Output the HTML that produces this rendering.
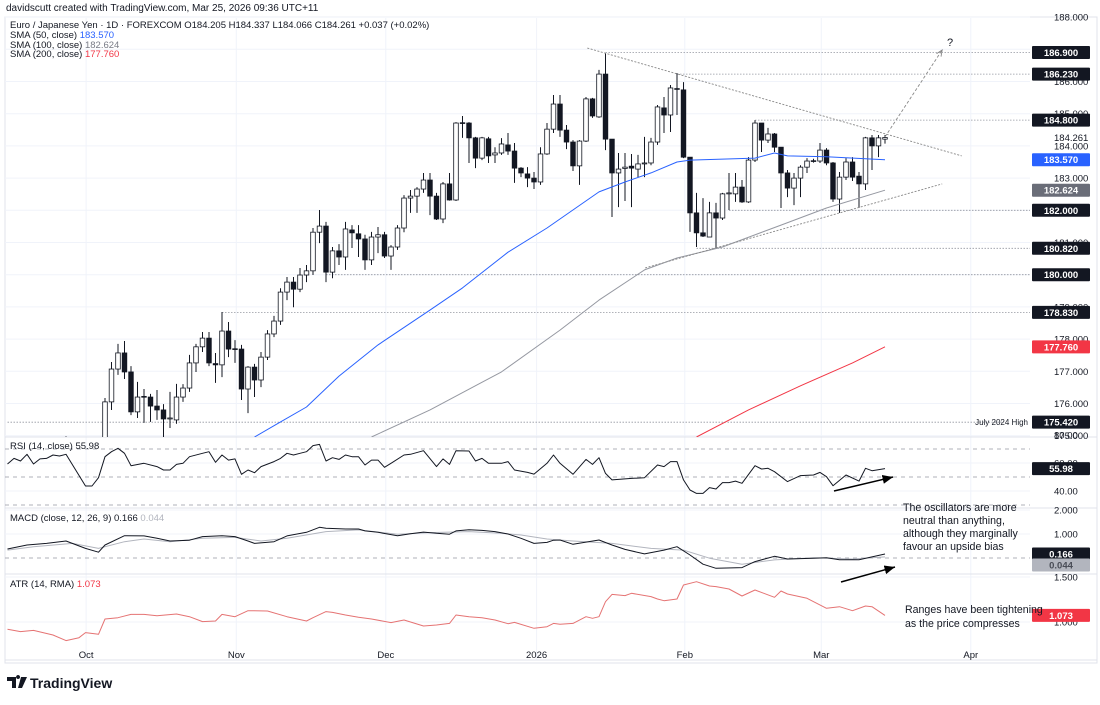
<!DOCTYPE html>
<html><head><meta charset="utf-8">
<style>
html,body{margin:0;padding:0;background:#fff;}
body{width:1100px;height:700px;overflow:hidden;font-family:"Liberation Sans",sans-serif;}
svg text{font-family:"Liberation Sans",sans-serif;}
</style></head>
<body>
<svg id="chart" width="1100" height="700" viewBox="0 0 1100 700" xmlns="http://www.w3.org/2000/svg">
<defs>
<clipPath id="cMain"><rect x="5" y="18" width="1025" height="419"/></clipPath>
<clipPath id="cRsi"><rect x="5" y="438" width="1025" height="69"/></clipPath>
<clipPath id="cMacd"><rect x="5" y="509" width="1025" height="65"/></clipPath>
<clipPath id="cAtr"><rect x="5" y="575" width="1025" height="85"/></clipPath>
<marker id="ah" markerWidth="8" markerHeight="8" refX="7" refY="4" orient="auto"><path d="M0,1 L7,4 L0,7" fill="#000"/></marker>
<marker id="ahg" markerWidth="8" markerHeight="8" refX="7" refY="4" orient="auto"><path d="M0,1 L7,4 L0,7" fill="none" stroke="#888"/></marker>
</defs>
<text x="6" y="11" font-size="10" fill="#131722">davidscutt created with TradingView.com, Mar 25, 2026 09:36 UTC+11</text>
<rect x="5" y="17" width="1092" height="646" fill="none" stroke="#e0e3eb"/>
<g id="grid"></g>
<g id="levels" clip-path="url(#cMain)"></g>
<g id="candles" clip-path="url(#cMain)"></g>
<g id="smas" clip-path="url(#cMain)"></g>
<g id="draw" clip-path="url(#cMain)"></g>
<g id="osc"></g>
<g id="axis"></g>
<text x="10" y="28" font-size="9.5" fill="#131722">Euro / Japanese Yen · 1D · FOREXCOM  O184.205  H184.337  L184.066  C184.261  +0.037 (+0.02%)</text>
<text x="10" y="38" font-size="9.5" fill="#131722">SMA (50, close) <tspan fill="#2962ff">183.570</tspan></text>
<text x="10" y="48" font-size="9.5" fill="#131722">SMA (100, close) <tspan fill="#787b86">182.624</tspan></text>
<text x="10" y="57" font-size="9.5" fill="#131722">SMA (200, close) <tspan fill="#f23645">177.760</tspan></text>
<text x="10" y="449" font-size="9.5" fill="#131722">RSI (14, close)  55.98</text>
<text x="10" y="521" font-size="9.5" fill="#131722">MACD (close, 12, 26, 9)  0.166  <tspan fill="#b2b5be">0.044</tspan></text>
<text x="10" y="587" font-size="9.5" fill="#131722">ATR (14, RMA)  <tspan fill="#f23645">1.073</tspan></text>
<text x="947" y="46" font-size="11" fill="#131722">?</text>
<g font-size="10.6" fill="#131722">
<text x="903" y="511">The oscillators are more</text>
<text x="903" y="524">neutral than anything,</text>
<text x="903" y="537">although they marginally</text>
<text x="903" y="550">favour an upside bias</text>
</g>
<g font-size="10.6" fill="#131722">
<text x="905" y="613">Ranges have been tightening</text>
<text x="905" y="627">as the price compresses</text>
</g>
<line x1="834" y1="491" x2="893" y2="477" stroke="#000" stroke-width="1.5" marker-end="url(#ah)"/>
<line x1="841" y1="582" x2="895" y2="567" stroke="#000" stroke-width="1.5" marker-end="url(#ah)"/>
<g>
<path d="M7,677 h9 v11 h-4 v-7 h-5z M18,679 a2,2 0 1,1 0.1,0z M21,677 h6 l-5,11 h-4z" fill="#131722"/>
<text x="30" y="688" font-size="14" font-weight="bold" fill="#131722">TradingView</text>
</g>
</svg>
<script>
// ---- data ----
const candleOpen=[174.2,174.3,174.1,174.4,174.3,174.5,174.2,174.4,174.6,174.7,174.5,174.3,174.1,174.0,174.3,174.7,176.05,177.07,177.57,176.98,175.74,176.20,176.20,175.92,175.80,175.52,175.49,176.20,176.48,177.26,177.76,178.03,177.24,177.20,178.25,177.69,177.69,176.45,177.13,176.73,177.44,178.16,178.56,179.46,179.77,179.55,179.99,180.12,181.32,181.51,180.08,180.74,180.55,181.39,181.27,181.11,180.46,181.17,181.24,180.58,180.86,181.45,182.38,182.44,182.66,182.94,182.44,181.73,182.82,182.32,184.71,184.71,184.25,183.62,184.22,183.72,183.78,184.03,183.84,183.31,183.13,183.00,182.88,183.75,184.52,185.30,184.49,184.12,183.38,184.15,185.46,184.90,186.23,184.21,183.16,183.30,183.37,183.28,183.44,183.47,184.12,185.18,184.96,185.78,185.74,183.65,181.92,181.30,181.17,181.92,181.76,182.51,182.51,182.72,182.26,183.56,184.71,184.18,184.37,183.96,183.16,182.69,183.00,183.34,183.53,183.53,183.87,183.47,182.35,183.03,183.50,183.06,182.82,184.25,184.00,184.21];
const candleHigh=[174.5,174.6,174.5,174.7,174.6,174.8,174.6,174.7,174.85,174.98,174.95,174.6,174.5,174.4,174.6,176.17,177.29,177.85,177.94,177.16,176.67,176.45,176.30,176.42,175.98,176.36,176.61,176.60,177.51,177.85,178.22,178.22,177.57,178.84,178.53,177.97,177.82,177.16,177.23,177.60,178.28,178.72,179.58,179.93,179.93,180.21,180.30,181.45,182.01,181.64,180.86,180.95,181.64,181.54,181.54,181.24,181.33,181.48,181.33,180.92,181.54,182.47,182.63,182.72,183.16,183.16,182.54,182.88,183.16,184.74,184.93,184.74,184.28,184.28,184.28,183.96,184.24,184.40,184.09,183.34,183.34,183.19,183.96,184.71,185.58,185.58,184.65,184.18,184.18,185.52,185.49,186.36,186.88,184.21,183.78,183.78,183.75,183.72,184.28,184.25,185.27,185.52,185.89,186.26,185.98,183.65,182.54,182.38,182.26,182.23,182.54,183.16,183.16,182.94,183.65,184.80,184.71,184.56,184.40,183.96,183.25,183.16,183.40,183.62,183.60,184.09,183.93,183.50,183.19,183.62,183.65,183.19,184.28,184.34,184.34,184.34];
const candleLow=[173.9,174.0,173.8,174.0,174.0,174.1,173.9,174.0,174.2,174.3,174.1,173.9,173.8,173.7,173.9,174.4,175.80,176.89,176.76,175.64,175.55,175.40,175.43,175.49,174.87,175.24,175.37,176.05,176.36,176.98,177.60,177.16,176.64,176.82,177.44,177.26,176.11,175.70,176.20,176.51,177.35,178.06,178.44,179.21,178.99,179.46,179.77,179.99,180.98,179.77,179.89,180.30,180.15,180.83,180.55,180.15,180.30,180.67,180.52,180.15,180.77,181.32,181.92,181.92,182.54,181.85,181.70,181.60,182.30,182.29,184.25,183.47,183.31,183.56,183.47,183.47,183.72,183.72,182.85,183.03,182.72,182.66,182.79,183.72,184.40,184.28,183.90,183.22,182.79,184.12,184.87,184.87,183.87,181.79,182.10,182.29,182.10,183.03,183.03,183.40,184.03,184.40,184.43,184.96,183.62,181.33,180.86,181.17,181.17,180.83,181.70,182.01,182.26,182.23,182.23,183.50,183.81,184.09,183.81,182.07,182.41,182.16,182.41,183.16,183.48,183.47,183.40,182.26,181.92,182.94,182.91,182.07,182.63,183.25,183.65,184.07];
const candleClose=[174.3,174.1,174.4,174.3,174.5,174.2,174.4,174.6,174.7,174.5,174.3,174.1,174.0,174.3,174.7,176.05,177.07,177.57,176.98,175.74,176.20,176.22,175.92,175.80,175.52,175.55,176.20,176.48,177.26,177.76,178.03,177.26,177.20,178.25,177.69,177.70,176.45,177.13,176.73,177.44,178.16,178.56,179.46,179.77,179.55,179.99,180.12,181.32,181.51,180.08,180.74,180.55,181.42,181.30,181.11,180.46,181.17,181.24,180.58,180.86,181.45,182.38,182.44,182.66,182.94,182.44,181.73,182.82,182.32,184.71,184.72,184.25,183.62,184.25,183.69,183.78,184.06,183.84,183.31,183.16,183.00,182.88,183.75,184.52,185.30,184.49,184.12,183.38,184.15,185.46,184.93,186.23,184.21,183.16,183.28,183.34,183.31,183.44,183.47,184.12,185.21,184.96,185.80,185.76,183.65,181.92,181.30,181.20,181.92,181.76,182.51,182.54,182.72,182.26,183.56,184.71,184.18,184.37,183.96,183.16,182.69,183.00,183.34,183.53,183.54,183.87,183.47,182.35,183.03,183.50,183.03,182.82,184.25,184.00,184.25,184.26];
const sma50Bars=[38,42,46,51,57,65,70,77,83,91,95,99,103,105,115,118,120,126,135];
const sma50Vals=[174.96,175.43,175.89,176.85,177.82,178.90,179.59,180.70,181.45,182.57,182.88,183.16,183.50,183.56,183.62,183.78,183.69,183.66,183.57];
const sma100Bars=[56,65,76,85,91,98,103,110,119,126,135];
const sma100Vals=[174.96,175.80,176.98,178.28,179.21,180.15,180.52,180.86,181.54,182.07,182.624];
const sma200Bars=[106,114,122,130,135];
const sma200Vals=[174.96,175.80,176.55,177.26,177.76];
const rsiBars=[0,1,2,3,4,5,6,7,8,9,12,13,14,15,16,17,18,19,21,23,24,25,26,27,28,30,31,32,33,34,35,36,37,38,39,41,42,43,44,45,46,47,48,49,50,51,52,53,54,55,56,57,58,59,61,62,64,66,67,68,69,71,72,73,74,76,77,78,80,81,83,84,85,87,89,90,91,92,93,96,98,100,101,102,103,104,105,106,107,108,109,110,111,112,113,115,116,117,118,120,122,124,125,126,127,129,131,132,133,135];
const rsiVals=[59.3,63.3,61.4,66.2,59.3,62.9,63.3,65.7,65.0,66.2,43.6,43.6,49.5,64.5,68.1,70.5,66.9,58.1,59.8,57.4,55.0,55.0,59.0,59.8,64.5,66.9,68.1,60.5,65.7,62.1,62.9,51.9,55.0,53.1,57.4,61.0,63.3,66.9,65.7,66.9,68.1,72.4,73.3,61.4,63.8,62.6,65.7,64.5,64.5,58.6,62.1,62.1,56.9,59.8,65.7,66.2,68.8,57.4,62.9,59.0,68.8,68.6,61.4,63.3,59.8,59.8,61.0,55.0,53.3,52.1,59.8,65.7,59.8,51.9,62.6,59.0,63.8,52.6,47.9,49.0,49.5,58.6,57.4,61.0,61.0,47.9,40.7,38.3,38.3,42.4,41.4,46.0,46.0,47.1,45.5,58.1,55.7,56.2,53.8,46.7,51.0,51.4,53.3,50.2,43.8,51.4,47.1,56.2,54.5,55.98];
const macdBars=[0,3,6,9,12,14,15,18,21,23,25,28,30,33,35,37,38,41,43,46,48,49,52,54,55,57,60,62,64,66,68,69,71,73,75,77,79,81,83,84,85,87,91,93,95,98,101,103,105,107,109,113,115,118,120,124,126,128,131,135];
const macdVals=[0.375,0.54,0.61,0.71,0.40,0.24,0.54,0.93,0.92,0.82,0.71,0.74,0.89,0.93,0.89,0.71,0.61,0.68,0.92,1.07,1.28,1.24,1.21,1.21,1.13,1.07,0.93,1.01,1.08,1.03,0.99,1.13,1.18,1.15,1.10,1.00,0.82,0.61,0.65,0.74,0.75,0.57,0.75,0.54,0.36,0.17,0.33,0.47,0.125,-0.26,-0.43,-0.40,-0.15,0.07,-0.04,-0.01,0.01,-0.07,-0.07,0.166];
const signalBars=[0,4,10,14,18,21,25,30,35,39,43,49,54,60,65,71,76,79,83,85,87,93,99,104,108,113,118,124,130,135];
const signalVals=[0.33,0.47,0.61,0.40,0.68,0.79,0.68,0.82,0.86,0.71,0.82,1.10,1.17,0.99,1.06,1.10,1.03,0.96,0.79,0.75,0.71,0.61,0.40,0.33,-0.01,-0.26,-0.08,0.01,-0.04,0.044];
const atrBars=[0,2,4,7,9,11,12,14,15,17,19,21,23,26,28,30,32,33,35,37,40,43,46,47,49,50,52,54,56,59,61,64,66,68,69,71,73,75,77,78,81,83,84,85,87,89,90,91,92,93,95,96,99,100,101,103,104,106,108,109,111,113,115,118,119,120,123,126,128,130,132,133,135];
const atrVals=[0.919,0.893,0.907,0.855,0.793,0.826,0.882,0.863,1.033,1.048,1.085,1.085,1.070,1.089,1.059,1.004,1.011,1.085,1.059,1.126,1.122,1.059,1.011,1.048,1.115,1.107,1.078,1.052,1.033,0.993,1.022,0.956,0.967,0.985,1.078,1.059,1.048,1.022,0.981,0.996,0.930,0.948,0.985,0.974,0.985,1.059,1.041,1.059,1.226,1.307,1.293,1.319,1.282,1.256,1.237,1.256,1.411,1.448,1.400,1.393,1.367,1.289,1.356,1.274,1.344,1.311,1.263,1.152,1.170,1.126,1.178,1.170,1.073];
const monthLabels=["Oct","Nov","Dec","2026","Feb","Mar","Apr"];
const monthBars=[12.1,35.2,58.2,81.4,104.2,125.2,148.2];
const priceTicks=[188,187,186,185,184,183,182,181,180,179,178,177,176,175];
const rsiTicks=[80,60,40];
const macdTicks=[2,1];
const atrTicks=[1.5,1];
const levelPrices=[186.9,186.23,184.8,182.0,180.82,180.0,178.83,175.42];
const levelStart=[92,103,115,111,106,49,33,0];
const resistLine=[[89.2,187.04],[146.8,183.69]];
const supportLine=[[98.1,180.21],[143.8,182.82]];
const projection=[[135,184.28],[143.8,186.98]];

const X=i=>7.5+i*6.5;
const Y=p=>81.5+(186-p)*32.2;
const YR=v=>463-(v-60)*1.4;
const YM=v=>558-v*24;
const YA=v=>622-(v-1)*90;
const NS="http://www.w3.org/2000/svg";
function mk(tag,attrs,parent){const e=document.createElementNS(NS,tag);for(const k in attrs)e.setAttribute(k,attrs[k]);parent.appendChild(e);return e;}
const grid=document.getElementById('grid');
const axis=document.getElementById('axis');

monthBars.forEach((b,k)=>{
 const l=mk('line',{x1:X(b),x2:X(b),y1:18,y2:660,stroke:'#f0f3fa'},grid);
 
 
 const t=mk('text',{x:X(b),y:658,'font-size':9.5,'text-anchor':'middle',fill:'#131722'},axis);
 t.textContent=monthLabels[k];
 
 
});
priceTicks.forEach(p=>{
 const l=mk('line',{x1:5,x2:1030,y1:Y(p),y2:Y(p),stroke:'#f0f3fa'},grid);
 
 
 const t=mk('text',{x:1054,y:Y(p)+3.5,'font-size':9.5,fill:'#131722'},axis);
 t.textContent=p.toFixed(3);
 
 
});
[437,508,574,660].forEach(y=>{
 const l=mk('line',{x1:5,x2:1097,y1:y,y2:y,stroke:'#e0e3eb'},grid);
 
 
});
rsiTicks.forEach(v=>{
 const t=mk('text',{x:1054,y:YR(v)+3.5,'font-size':9.5,fill:'#131722'},axis);
 t.textContent=v.toFixed(2);
 
 
});
[60,40].forEach(v=>{const l=mk('line',{x1:5,x2:1030,y1:YR(v),y2:YR(v),stroke:'#f0f3fa'},grid);
 
 });
[70,50,30].forEach(v=>{const l=mk('line',{x1:5,x2:1030,y1:YR(v),y2:YR(v),stroke:'#9598a1','stroke-dasharray':'4,4','stroke-width':0.8},grid);
 
 });
macdTicks.forEach(v=>{
 const t=mk('text',{x:1054,y:YM(v)+3.5,'font-size':9.5,fill:'#131722'},axis);
 t.textContent=v.toFixed(3);
 
 
 const l=mk('line',{x1:5,x2:1030,y1:YM(v),y2:YM(v),stroke:'#f0f3fa'},grid);
 
 
});
{const l=mk('line',{x1:5,x2:1030,y1:YM(0),y2:YM(0),stroke:'#9598a1','stroke-dasharray':'4,4','stroke-width':0.8},grid);
 
 }
atrTicks.forEach(v=>{
 const t=mk('text',{x:1054,y:YA(v)+3.5,'font-size':9.5,fill:'#131722'},axis);
 t.textContent=v.toFixed(3);
 
 
 const l=mk('line',{x1:5,x2:1030,y1:YA(v),y2:YA(v),stroke:'#f0f3fa'},grid);
 
 
});

const lv=document.getElementById('levels');
levelPrices.forEach((p,k)=>{
 const l=mk('line',{x1:X(levelStart[k]),x2:1030,y1:Y(p),y2:Y(p),stroke:'#9598a1','stroke-dasharray':'1.5,1.5','stroke-width':0.8},lv);
 
 
});

const cg=document.getElementById('candles');
candleOpen.forEach((o,i)=>{
 const c=candleClose[i],h=candleHigh[i],lo=candleLow[i],x=X(i);
 const g=mk('g',{},cg);
 
 
 mk('line',{x1:x,x2:x,y1:Y(h),y2:Y(lo),stroke:'#131722','stroke-width':1},g);
 const top=Y(Math.max(o,c)),bot=Y(Math.min(o,c));
 const up=c>=o;
 mk('rect',{x:x-2.3,y:top,width:4.6,height:Math.max(bot-top,0.8),fill:up?'#ffffff':'#131722',stroke:'#131722','stroke-width':0.8},g);
});

const sg=document.getElementById('smas');
function poly(bars,vals,ys,color,w,parent,name){
 const pts=bars.map((b,k)=>X(b).toFixed(1)+','+ys(vals[k]).toFixed(1)).join(' ');
 const p=mk('polyline',{points:pts,fill:'none',stroke:color,'stroke-width':w,'stroke-linejoin':'round'},parent);
 
 
 return p;
}
poly(sma50Bars,sma50Vals,Y,'#2962ff',1,sg,'sma50-line');
poly(sma100Bars,sma100Vals,Y,'#9598a1',1,sg,'sma100-line');
poly(sma200Bars,sma200Vals,Y,'#f23645',1,sg,'sma200-line');

const dg=document.getElementById('draw');
function tl(seg,name,dash,marker){
 const a=mk('line',{x1:X(seg[0][0]),y1:Y(seg[0][1]),x2:X(seg[1][0]),y2:Y(seg[1][1]),stroke:'#888','stroke-width':0.9,'stroke-dasharray':dash},dg);
 if(marker)a.setAttribute('marker-end',marker);
 
 
}
tl(resistLine,'resistance-trendline','2,1.5');
tl(supportLine,'support-trendline','2,1.5');
tl(projection,'projection-arrow','3,2','url(#ahg)');

const og=document.getElementById('osc');
const rg=mk('g',{'clip-path':'url(#cRsi)'},og);
poly(rsiBars,rsiVals,YR,'#131722',1,rg,'rsi-line');
const mg=mk('g',{'clip-path':'url(#cMacd)'},og);
poly(signalBars,signalVals,YM,'#b2b5be',1,mg,'macd-signal-line');
poly(macdBars,macdVals,YM,'#131722',1,mg,'macd-line');
const ag=mk('g',{'clip-path':'url(#cAtr)'},og);
poly(atrBars,atrVals,YA,'#e57373',1,ag,'atr-line');

function box(y,txt,bg,fg,name){
 const g=mk('g',{},axis);
 
 
 mk('rect',{x:1032,y:y-6.5,width:58,height:13,fill:bg,rx:1},g);
 const t=mk('text',{x:1061,y:y+3.5,'font-size':9.5,'text-anchor':'middle',fill:fg,'font-weight':'bold'},g);
 t.textContent=txt;
}
levelPrices.forEach(p=>box(Y(p),p.toFixed(3),'#131722','#ffffff','level-price-label'));
box(Y(sma50Vals[sma50Vals.length-1]),'183.570','#2962ff','#fff','sma50-price-label');
box(Y(sma100Vals[sma100Vals.length-1]),'182.624','#6a6d78','#fff','sma100-price-label');
box(Y(sma200Vals[sma200Vals.length-1]),'177.760','#f23645','#fff','sma200-price-label');
{const t=mk('text',{x:1054,y:Y(184.261)+3.5,'font-size':9.5,fill:'#131722'},axis);t.textContent='184.261';
 
 }
{const bg=mk('rect',{x:1004,y:Y(175.42)-6,width:27,height:12,fill:'#fff'},axis);
 
 
 const t=mk('text',{x:1028,y:Y(175.42)+3,'font-size':8,'text-anchor':'end',fill:'#131722'},axis);
 t.textContent='July 2024 High';
 
 }
box(YR(rsiVals[rsiVals.length-1]),'55.98','#131722','#fff','rsi-value-label');
box(YM(macdVals[macdVals.length-1]),'0.166','#131722','#fff','macd-value-label');
box(YM(macdVals[macdVals.length-1])+11,'0.044','#b2b5be','#4a4d57','signal-value-label');
box(YA(atrVals[atrVals.length-1]),'1.073','#f23645','#fff','atr-value-label');
</script>
</body></html>
